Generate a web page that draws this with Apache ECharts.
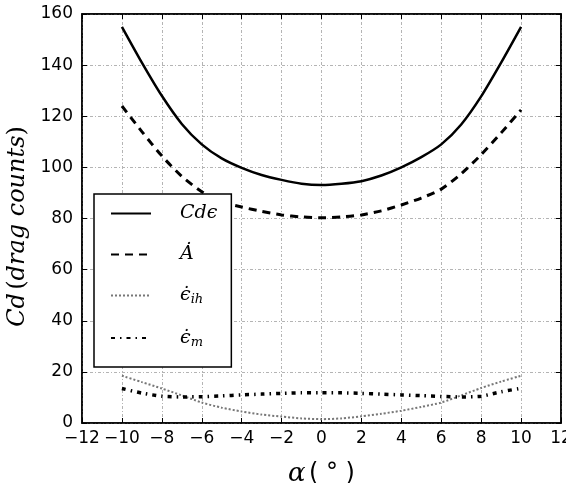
<!DOCTYPE html>
<html>
<head>
<meta charset="utf-8">
<script src="https://cdn.jsdelivr.net/npm/echarts@6/dist/echarts.min.js"></script>
<style>
  html, body { margin: 0; padding: 0; background: #fff; }
  #chart { width: 566px; height: 483px; }
</style>
</head>
<body>
<div id="chart"></div>
<script>
// angle of attack (deg)
const alpha = [-10, -9, -8, -7, -6, -5, -4, -3, -2, -1, 0, 1, 2, 3, 4, 5, 6, 7, 8, 9, 10]
const cdEps = [155, 141, 128, 117, 109, 103.5, 99.8, 97, 95.1, 93.6, 93.1, 93.6, 94.6, 96.8, 100, 104, 109, 116.8, 127.8, 141, 155]
const aDot = [124, 114, 104.5, 96.5, 90.5, 86.5, 84.5, 82.8, 81.4, 80.6, 80.3, 80.6, 81.4, 83, 85.3, 88, 91.5, 97.5, 105, 113.5, 122.5]
const epsIh = [18.5, 16, 13.5, 10.8, 8, 6, 4.5, 3.3, 2.5, 1.8, 1.5, 1.8, 2.6, 3.6, 4.8, 6.3, 8, 10.8, 13.7, 16.2, 18.5]
const epsM = [13.5, 11.7, 10.5, 10.2, 10.3, 10.6, 11, 11.3, 11.6, 11.8, 11.8, 11.8, 11.6, 11.3, 11, 10.7, 10.4, 10.2, 10.5, 12.2, 13.6]
const seriesNames = ['Cd', 'A', 'ih', 'm']

const pairs = (ys) => alpha.map((x, i) => [x, ys[i]])
const minus = (v) => String(v).replace('-', '\u2212')

const myChart = echarts.init(document.getElementById('chart'))

const gridLine = {
  show: true,
  lineStyle: { color: '#b4b4b4', width: 1, type: [3, 2, 1, 2] }
}
const frameLine = { show: true, onZero: false, lineStyle: { color: '#000', width: 1.5 } }
const tick = { show: true, inside: true, length: 5, lineStyle: { color: '#000', width: 1 } }
const tickLabel = { color: '#000', fontSize: 17, fontFamily: 'DejaVu Sans', formatter: minus }
const serif = { fontFamily: 'DejaVu Serif', fontStyle: 'italic', color: '#000' }

const legendText = {
  Cd: '{t|Cd\u03f5}',
  A: '{t|A\u0307}',
  ih: '{t|\u03f5\u0307}{s|ih}',
  m: '{t|\u03f5\u0307}{s|m}'
}

const line = (name, data, style) => ({
  name,
  type: 'line',
  data: pairs(data),
  symbol: 'none',
  smooth: 0.25,
  itemStyle: { color: '#000' },
  lineStyle: style,
  z: 3
})

const option = {
  animation: false,
  grid: {
    left: 82, right: 5, top: 14, bottom: 60,
    outerBoundsMode: 'none',
    show: true, borderColor: '#000', borderWidth: 1.5
  },
  legend: {
    data: seriesNames,
    orient: 'vertical',
    left: 94,
    top: 194,
    padding: [10, 14, 18, 16],
    itemWidth: 40,
    itemHeight: 22,
    itemGap: 22,
    backgroundColor: '#fff',
    borderColor: '#000',
    borderWidth: 1.5,
    borderRadius: 0,
    itemStyle: { opacity: 0 },
    formatter: (name) => legendText[name],
    textStyle: {
      padding: [0, 0, 0, 24],
      rich: {
        t: { ...serif, fontSize: 19, lineHeight: 22 },
        s: { ...serif, fontSize: 13, lineHeight: 10, verticalAlign: 'bottom' }
      }
    }
  },
  xAxis: [
    {
      type: 'value',
      min: -12,
      max: 12,
      interval: 2,
      name: '{i|\u03b1} {r|( \u00b0 )}',
      nameLocation: 'middle',
      nameGap: 38,
      nameTextStyle: {
        rich: {
          i: { ...serif, fontSize: 26 },
          r: { fontFamily: 'DejaVu Sans', fontSize: 24, color: '#000' }
        }
      },
      axisLine: frameLine,
      axisTick: tick,
      axisLabel: { ...tickLabel, margin: 7 },
      splitLine: gridLine
    },
    {
      type: 'value',
      position: 'top',
      min: -12,
      max: 12,
      interval: 2,
      axisLine: frameLine,
      axisTick: tick,
      axisLabel: { show: false },
      splitLine: { show: false }
    }
  ],
  yAxis: [
    {
      type: 'value',
      min: 0,
      max: 160,
      interval: 20,
      name: '{i|Cd} {r|(}{i|drag counts}{r|)}',
      nameLocation: 'middle',
      nameGap: 48,
      nameTextStyle: {
        padding: [0, 16, 0, 0],
        rich: {
          i: { ...serif, fontSize: 24 },
          r: { fontFamily: 'DejaVu Serif', fontSize: 24, color: '#000' }
        }
      },
      axisLine: frameLine,
      axisTick: tick,
      axisLabel: { ...tickLabel, margin: 9 },
      splitLine: gridLine
    },
    {
      type: 'value',
      position: 'right',
      min: 0,
      max: 160,
      interval: 20,
      axisLine: frameLine,
      axisTick: tick,
      axisLabel: { show: false },
      splitLine: { show: false }
    }
  ],
  series: [
    line('Cd', cdEps, { color: '#000', width: 2.5, type: 'solid' }),
    line('A', aDot, { color: '#000', width: 3, type: [8, 6] }),
    line('ih', epsIh, { color: '#777', width: 2, type: [2, 2] }),
    line('m', epsM, { color: '#000', width: 3.5, type: [4, 5, 1.5, 5], cap: 'butt' })
  ]
}

myChart.setOption(option)
</script>
</body>
</html>
